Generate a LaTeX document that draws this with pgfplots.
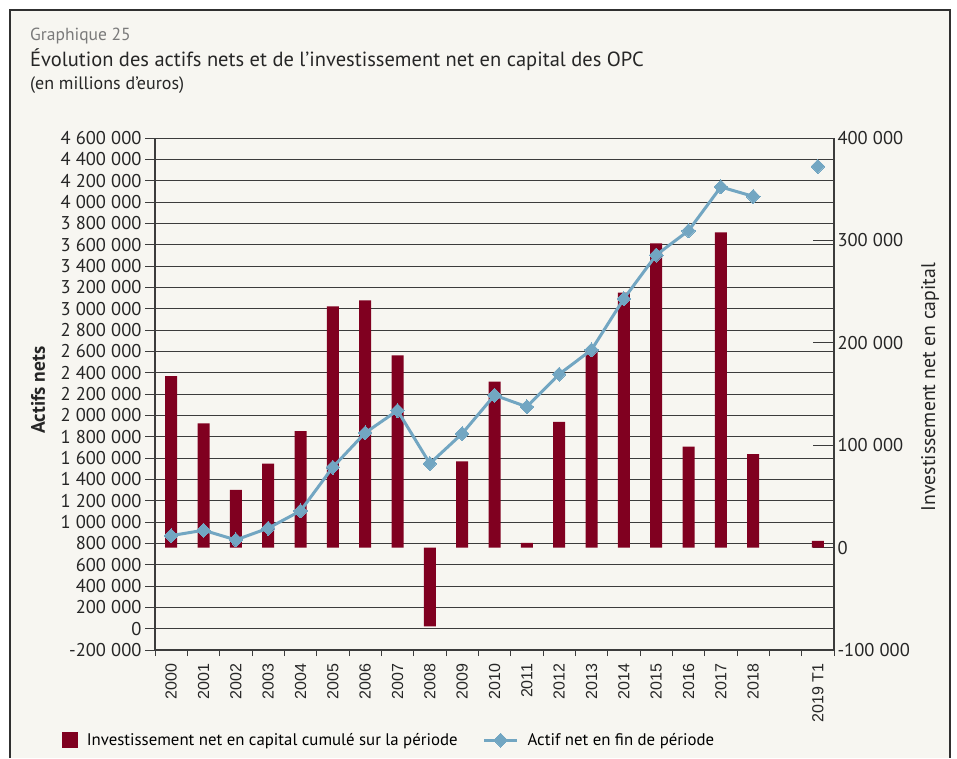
\documentclass[border=0pt]{standalone}
\usepackage{pgfplots}
\usepackage{pgfplotstable}
\pgfplotsset{compat=1.18}
\usepackage{fontspec}
\setmainfont{PT Sans}
\newfontfamily\arialf{Liberation Sans}
\definecolor{bg}{HTML}{F7F6F1}
\definecolor{barred}{HTML}{800020}
\definecolor{lineblue}{HTML}{72A6C2}
\definecolor{framec}{HTML}{303030}
\definecolor{gridc}{HTML}{3C3C3C}
\definecolor{titlegray}{HTML}{7A7A7A}

\pgfplotsset{
  diamond legend/.style={legend image code/.code={\draw[mark repeat=2,mark phase=2,##1] plot coordinates {(0pt,0pt) (16.5pt,0pt) (33pt,0pt)};}},
  square legend/.style={legend image code/.code={\fill[barred] (0pt,-7.5pt) rectangle (15pt,7.5pt);}},
}

\pgfplotstableread{
x inv
0 167400
1 121200
2 56400
3 82100
4 113700
5 235600
6 241400
7 187700
8 -76900
9 84100
10 162000
11 4600
12 122900
13 192500
14 249000
15 297200
16 98700
17 307900
18 91200
20 6500
}\invtable

\pgfplotstableread{
x actif
0 872000
1 923000
2 832000
3 942000
4 1104000
5 1514000
6 1836000
7 2045000
8 1548000
9 1829000
10 2189000
11 2080000
12 2386000
13 2614000
14 3093000
15 3503000
16 3731000
17 4141000
18 4053000
19 nan
20 4334000
}\actiftable

\begin{document}
\begin{tikzpicture}
\useasboundingbox (0pt,0pt) rectangle (957pt,758pt);
\fill[white] (0pt,0pt) rectangle (957pt,758pt);
\fill[bg] (10pt,0pt) rectangle (950pt,748pt);
\draw[framec, line width=2pt] (10pt,0pt) -- (10pt,748pt) -- (950pt,748pt) -- (950pt,0pt);

\node[anchor=base west, text=titlegray, inner sep=0pt] at (30pt,717pt) {\fontsize{17.5}{20}\selectfont Graphique 25};
\node[anchor=base west, text=black!85, inner sep=0pt] at (30pt,691pt) {\fontsize{20.5}{24}\selectfont Évolution des actifs nets et de l’investissement net en capital des OPC};
\node[anchor=base west, text=black!85, inner sep=0pt] at (30pt,668pt) {\fontsize{18}{21}\selectfont (en millions d’euros)};

\node[rotate=90, text=black!85] at (38pt,368pt) {\fontsize{19.5}{22}\selectfont\bfseries Actifs nets};
\node[rotate=90, text=black!85] at (930pt,371pt) {\fontsize{19.8}{22}\selectfont Investissement net en capital};

% Axis 1: left scale, grid and ticks
\begin{axis}[
  at={(155pt,108pt)}, anchor=south west,
  width=679pt, height=512pt, scale only axis,
  xmin=-0.5, xmax=20.5,
  ymin=-200000, ymax=4600000,
  axis x line*=bottom, axis y line*=left,
  axis line style={gridc, line width=1.1pt, -},
  ytick={-200000,0,...,4600000},
  ymajorgrids, grid style={gridc, line width=0.8pt},
  xtick={0,...,20},
  xticklabels={2000,2001,2002,2003,2004,2005,2006,2007,2008,2009,2010,2011,2012,2013,2014,2015,2016,2017,2018,,2019 T1},
  major x tick style={draw=none},
  minor xtick={-0.5,0.5,...,20.5},
  tick align=outside,
  major tick length=10pt, minor tick length=6pt,
  tick style={gridc, line width=0.9pt},
  xticklabel style={rotate=90, anchor=east, font=\arialf\fontsize{16}{18}\selectfont, text=black!85},
  yticklabel style={font=\fontsize{18.5}{20}\selectfont, text=black!85},
  scaled y ticks=false,
  /pgf/number format/assume math mode=true,
  yticklabel={\pgfmathprintnumber[fixed,1000 sep={\hspace{0.28em}}]{\tick}},
]
\addplot[draw=none, forget plot] coordinates {(0,0)};
\end{axis}

% Axis 2: right scale, bars
\begin{axis}[
  at={(155pt,108pt)}, anchor=south west,
  width=679pt, height=512pt, scale only axis,
  xmin=-0.5, xmax=20.5,
  ymin=-100000, ymax=400000,
  axis x line=none, axis y line*=right,
  axis line style={gridc, line width=1.1pt, -},
  ytick={-100000,0,...,400000},
  tick align=inside, major tick length=21pt,
  tick style={gridc, line width=0.9pt},
  yticklabel style={font=\fontsize{18.5}{20}\selectfont, text=black!85},
  scaled y ticks=false,
  /pgf/number format/assume math mode=true,
  yticklabel={\pgfmathprintnumber[fixed,1000 sep={\hspace{0.28em}}]{\tick}},
]
\addplot[ybar, bar width=12pt, fill=barred, draw=none] table[x=x, y=inv] {\invtable};
\end{axis}

% Axis 3: line on left scale
\begin{axis}[
  at={(155pt,108pt)}, anchor=south west,
  width=679pt, height=512pt, scale only axis,
  xmin=-0.5, xmax=20.5,
  ymin=-200000, ymax=4600000,
  hide axis,
  unbounded coords=jump,
  legend style={at={(-0.141,-0.176)}, anchor=west, draw=none, fill=none,
    font=\fontsize{16.8}{20}\selectfont, legend columns=2,
    /tikz/every odd column/.append style={column sep=7pt},
    /tikz/every even column/.append style={column sep=23pt}},
]
\addlegendimage{square legend}
\addlegendentry{Investissement net en capital cumulé sur la période}
\addplot[lineblue, line width=3pt, mark=diamond*, mark size=7pt, mark options={xscale=1.3, line width=0pt}, diamond legend]
  table[x=x, y=actif] {\actiftable};
\addlegendentry{Actif net en fin de période}
\end{axis}
\end{tikzpicture}
\end{document}
